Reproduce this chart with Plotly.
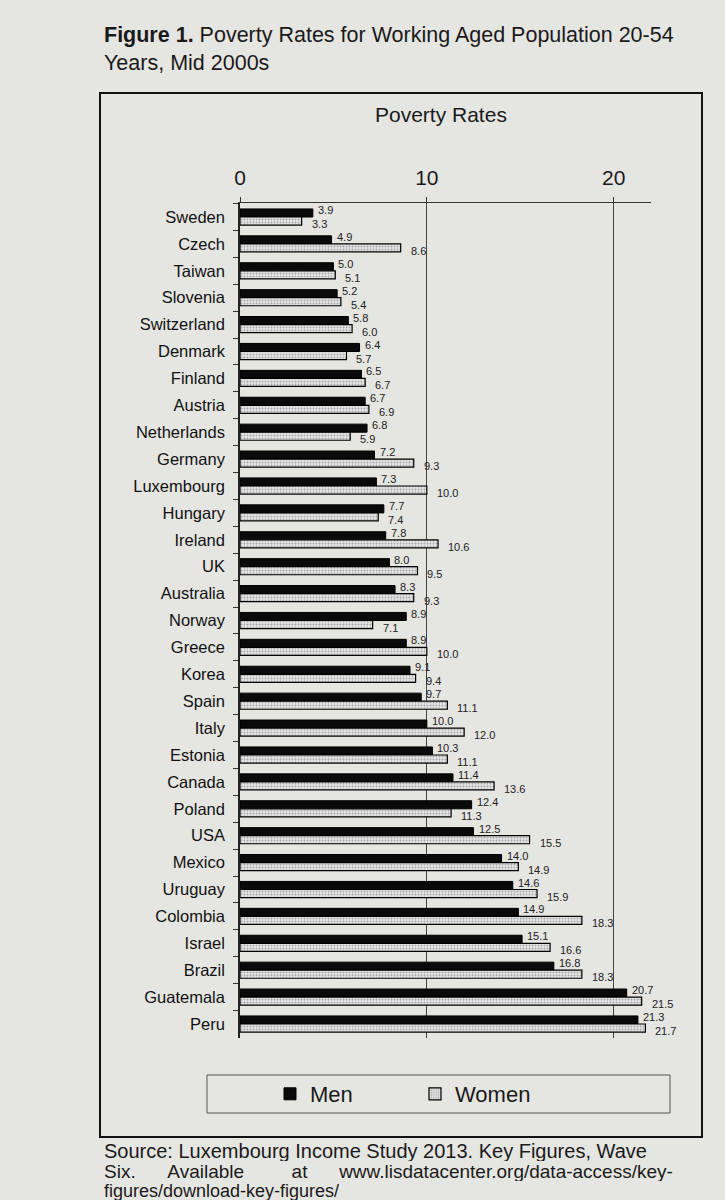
import plotly.graph_objects as go

# Poverty rates (%) for working aged population 20-54, mid 2000s
countries = [
    "Sweden", "Czech", "Taiwan", "Slovenia", "Switzerland", "Denmark", "Finland",
    "Austria", "Netherlands", "Germany", "Luxembourg", "Hungary", "Ireland", "UK",
    "Australia", "Norway", "Greece", "Korea", "Spain", "Italy", "Estonia", "Canada",
    "Poland", "USA", "Mexico", "Uruguay", "Colombia", "Israel", "Brazil",
    "Guatemala", "Peru",
]
men = [
    3.9, 4.9, 5.0, 5.2, 5.8, 6.4, 6.5, 6.7, 6.8, 7.2, 7.3, 7.7, 7.8, 8.0,
    8.3, 8.9, 8.9, 9.1, 9.7, 10.0, 10.3, 11.4, 12.4, 12.5, 14.0, 14.6, 14.9,
    15.1, 16.8, 20.7, 21.3,
]
women = [
    3.3, 8.6, 5.1, 5.4, 6.0, 5.7, 6.7, 6.9, 5.9, 9.3, 10.0, 7.4, 10.6, 9.5,
    9.3, 7.1, 10.0, 9.4, 11.1, 12.0, 11.1, 13.6, 11.3, 15.5, 14.9, 15.9, 18.3,
    16.6, 18.3, 21.5, 21.7,
]
x_ticks = [0, 10, 20]

FONT = "Liberation Sans, Arial, sans-serif"
BG = "#e5e5e1"
INK = "#1a1a1a"

# the page puts the figure 8px in from the top-left corner
OFF = 8
W, H = 725 - OFF, 1200 - OFF
# plot area, in screen pixels
L, R, T, B = 240, 651, 203, 1038


def px_x(p):
    return (p - L) / (R - L)


def px_y(p):
    return (B - p) / (B - T)


fig = go.Figure()

fig.add_trace(go.Bar(
    y=countries, x=men, name="Men", orientation="h",
    marker=dict(color="#0a0a0a", line=dict(color="#000", width=1)),
))
fig.add_trace(go.Bar(
    y=countries, x=women, name="Women", orientation="h",
    marker=dict(
        color="#dcdcdc",
        line=dict(color="#000", width=1.2),
        pattern=dict(shape=".", fgcolor="#6a6a6a", bgcolor="#e4e4e4",
                     size=3, solidity=0.3, fillmode="overlay"),
    ),
))

shapes = [
    # outer chart frame
    dict(type="rect", xref="paper", yref="paper",
         x0=px_x(100), x1=px_x(702), y0=px_y(1137), y1=px_y(93),
         line=dict(color="#111", width=2), layer="below"),
    # legend frame
    dict(type="rect", xref="paper", yref="paper",
         x0=px_x(207), x1=px_x(670), y0=px_y(1113), y1=px_y(1075),
         line=dict(color="#555", width=1), layer="below"),
]

annotations = [
    dict(text="<b>Figure 1.</b> Poverty Rates for Working Aged Population 20-54",
         x=px_x(102), y=px_y(35), xanchor="left", yanchor="middle",
         font=dict(size=21.5, color=INK)),
    dict(text="Years, Mid 2000s",
         x=px_x(102), y=px_y(63), xanchor="left", yanchor="middle",
         font=dict(size=21.5, color=INK)),
    dict(text="Poverty Rates",
         x=px_x(441), y=px_y(114), xanchor="center", yanchor="middle",
         font=dict(size=21, color=INK)),
    dict(text="Source: Luxembourg Income Study 2013. Key Figures, Wave",
         x=px_x(102), y=px_y(1150.5), xanchor="left", yanchor="middle",
         height=21, font=dict(size=20, color=INK)),
    dict(text="Six." + "&nbsp;" * 6 + "Available" + "&nbsp;" * 9 + "at"
              + "&nbsp;" * 6 + "www.lisdatacenter.org/data-access/key-",
         x=px_x(102), y=px_y(1171), xanchor="left", yanchor="middle",
         height=20, font=dict(size=19, color=INK)),
    dict(text="figures/download-key-figures/",
         x=px_x(102), y=px_y(1190), xanchor="left", yanchor="middle",
         height=19, font=dict(size=18, color=INK)),
]
for a in annotations:
    a.update(xref="paper", yref="paper", showarrow=False)

# value labels at the bar ends: men a little above, women a little below
for c, m, w in zip(countries, men, women):
    annotations.append(dict(
        x=m, y=c, xref="x", yref="y", text=f"{m:.1f}", showarrow=False,
        xanchor="left", yanchor="middle", xshift=4, yshift=7, borderpad=0,
        font=dict(size=11, color="#222"),
    ))
    annotations.append(dict(
        x=w, y=c, xref="x", yref="y", text=f"{w:.1f}", showarrow=False,
        xanchor="left", yanchor="middle", xshift=9, yshift=-7, borderpad=0,
        font=dict(size=11, color="#222"),
    ))

fig.update_layout(
    width=W, height=H,
    margin=dict(l=L - OFF, r=W - (R - OFF), t=T - OFF, b=H - (B - OFF)),
    paper_bgcolor=BG, plot_bgcolor=BG,
    font=dict(family=FONT, color=INK),
    barmode="group", bargap=0.4, bargroupgap=0,
    showlegend=True,
    legend=dict(orientation="h", x=px_x(270), y=px_y(1094),
                xanchor="left", yanchor="middle",
                font=dict(size=22), bgcolor="rgba(0,0,0,0)",
                entrywidth=100, itemwidth=30, traceorder="normal"),
    shapes=shapes, annotations=annotations,
)

fig.update_xaxes(
    side="top", range=[0, 22], tickvals=x_ticks,
    showline=True, linecolor="#333", linewidth=1,
    showgrid=True, gridcolor="#444", gridwidth=1,
    zeroline=False, ticks="outside", ticklen=5, tickcolor="#333",
    tickfont=dict(size=21), ticklabelstandoff=4,
)
fig.update_yaxes(
    autorange="reversed", categoryorder="array", categoryarray=countries,
    showline=True, linecolor="#222", linewidth=1.5,
    ticks="outside", tickson="boundaries", ticklen=5, tickcolor="#333",
    tickfont=dict(size=16.5, color="#111"), ticklabelstandoff=10,
    showgrid=False,
)

fig.write_html("out.html",
               post_script=f"document.body.style.background='{BG}';")
